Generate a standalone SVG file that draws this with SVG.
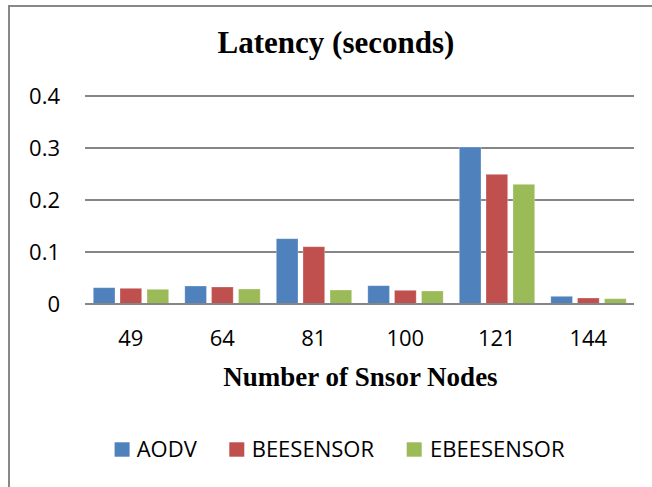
<svg xmlns="http://www.w3.org/2000/svg" width="652" height="487" viewBox="0 0 652 487">
<style>
.frame{fill:#fff;stroke:#888;stroke-width:2}
.grid{stroke:#868686;stroke-width:2}
.tick{font-family:"Open Sans","Noto Sans",sans-serif;font-size:22px;fill:#000}
.ylab{text-anchor:end}
.xlab{text-anchor:middle}
.title{font-family:"Liberation Serif","Times New Roman",serif;font-weight:bold;fill:#000;text-anchor:middle}
.s1{fill:#4F81BD}
.s2{fill:#C0504D}
.s3{fill:#9BBB59}
.bar{stroke:#fff;stroke-opacity:0.35;stroke-width:0.8}
</style>
<rect class="frame" x="9" y="6" width="700" height="520"/>
<text class="title" x="336" y="53.3" font-size="31">Latency (seconds)</text>
<g id="grid">
<line class="grid" x1="85" y1="96" x2="634" y2="96"/>
<line class="grid" x1="85" y1="148" x2="634" y2="148"/>
<line class="grid" x1="85" y1="200" x2="634" y2="200"/>
<line class="grid" x1="85" y1="252" x2="634" y2="252"/>
</g>
<g id="y-labels" class="tick ylab">
<text x="60" y="103.7">0.4</text>
<text x="60" y="156">0.3</text>
<text x="60" y="207.7">0.2</text>
<text x="60" y="260">0.1</text>
<text x="60" y="311.7">0</text>
</g>
<g id="bars">
<g id="cat-49">
<rect class="bar s1" x="93.3" y="287.7" width="21.7" height="16.3"/>
<rect class="bar s2" x="120" y="288.3" width="21.7" height="15.7"/>
<rect class="bar s3" x="147" y="289.3" width="21.7" height="14.7"/>
</g>
<g id="cat-64">
<rect class="bar s1" x="184.8" y="286" width="21.7" height="18"/>
<rect class="bar s2" x="211.5" y="287" width="21.7" height="17"/>
<rect class="bar s3" x="238.5" y="289" width="21.7" height="15"/>
</g>
<g id="cat-81">
<rect class="bar s1" x="276.3" y="238.7" width="21.7" height="65.3"/>
<rect class="bar s2" x="303" y="246.7" width="21.7" height="57.3"/>
<rect class="bar s3" x="330" y="290" width="21.7" height="14"/>
</g>
<g id="cat-100">
<rect class="bar s1" x="367.8" y="285.7" width="21.7" height="18.3"/>
<rect class="bar s2" x="394.5" y="290.3" width="21.7" height="13.7"/>
<rect class="bar s3" x="421.5" y="291" width="21.7" height="13"/>
</g>
<g id="cat-121">
<rect class="bar s1" x="459.3" y="147" width="21.7" height="157"/>
<rect class="bar s2" x="486" y="174.3" width="21.7" height="129.7"/>
<rect class="bar s3" x="513" y="184.3" width="21.7" height="119.7"/>
</g>
<g id="cat-144">
<rect class="bar s1" x="550.8" y="296.3" width="21.7" height="7.7"/>
<rect class="bar s2" x="577.5" y="298" width="21.7" height="6"/>
<rect class="bar s3" x="604.5" y="298.7" width="21.7" height="5.3"/>
</g>
</g>
<line id="x-axis" class="grid" x1="85" y1="304" x2="634" y2="304"/>
<g id="x-labels" class="tick xlab">
<text x="130.8" y="345.7">49</text>
<text x="222.3" y="345.7">64</text>
<text x="313.8" y="345.7">81</text>
<text x="405.3" y="345.7">100</text>
<text x="496.8" y="345.7">121</text>
<text x="588.3" y="345.7">144</text>
</g>
<text class="title" x="360.5" y="386" font-size="27">Number of Snsor Nodes</text>
<g id="legend" class="tick">
<rect class="s1" x="114.6" y="442.3" width="15" height="14.4"/>
<text x="136.7" y="456.7">AODV</text>
<rect class="s2" x="229.3" y="442.3" width="15" height="14.4"/>
<text x="251.7" y="456.7">BEESENSOR</text>
<rect class="s3" x="406.7" y="442.3" width="15" height="14.4"/>
<text x="430" y="456.7">EBEESENSOR</text>
</g>
</svg>
